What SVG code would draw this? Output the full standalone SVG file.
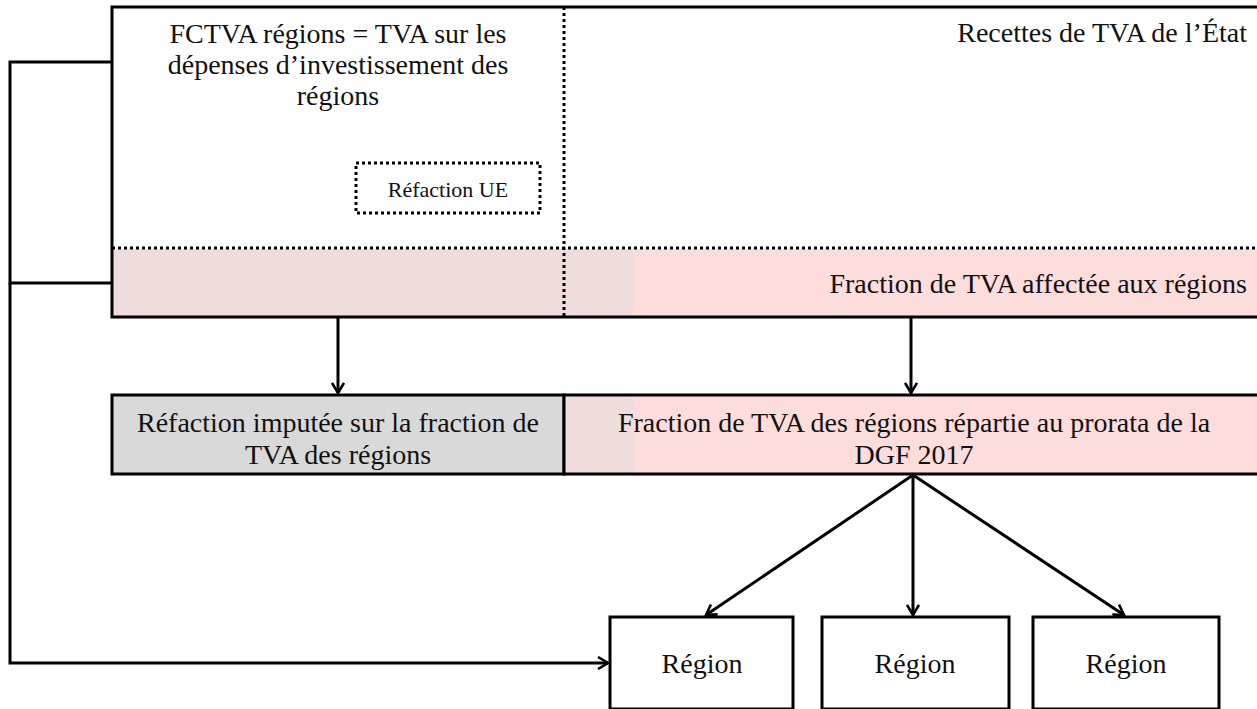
<svg xmlns="http://www.w3.org/2000/svg" width="1257" height="709" viewBox="0 0 1257 709">
  <style>
    .txt { font-family: "Liberation Serif", "Times New Roman", serif; fill: #111; }
    .big { font-size: 28px; }
    .small { font-size: 22px; }
    .solid { fill: none; stroke: #000; stroke-width: 3; }
    .dot { fill: none; stroke: #000; stroke-width: 3; stroke-dasharray: 3 3; }
    .conn { fill: none; stroke: #000; stroke-width: 3; }
  </style>
  <defs>
    <marker id="arrow" viewBox="0 0 14 14" refX="12" refY="7" markerWidth="14" markerHeight="14" markerUnits="userSpaceOnUse" orient="auto">
      <path d="M2,1 L12,7 L2,13" fill="none" stroke="#000" stroke-width="2.6"/>
    </marker>
  </defs>

  <rect width="1257" height="709" fill="#fff"/>

  <!-- Upper block: FCTVA and state VAT revenue -->
  <g id="recettes-tva">
    <rect x="112" y="249" width="521" height="68" fill="#efdcdd"/>
    <rect x="633" y="249" width="624" height="68" fill="#fddcdc"/>
    <path class="solid" d="M1257,7 H112 V317 H1257"/>
    <line class="dot" x1="112" y1="248" x2="1257" y2="248"/>
    <line class="dot" x1="564" y1="7" x2="564" y2="317"/>
    <text class="txt big" text-anchor="middle" x="338" y="43">FCTVA régions = TVA sur les</text>
    <text class="txt big" text-anchor="middle" x="338" y="74">dépenses d’investissement des</text>
    <text class="txt big" text-anchor="middle" x="338" y="105">régions</text>
    <text class="txt big" text-anchor="end" x="1247" y="42">Recettes de TVA de l’État</text>
    <text class="txt big" text-anchor="end" x="1247" y="293">Fraction de TVA affectée aux régions</text>
  </g>

  <g id="refaction-ue">
    <rect class="dot" x="356" y="163" width="184" height="50"/>
    <text class="txt small" text-anchor="middle" x="448" y="197">Réfaction UE</text>
  </g>

  <!-- Middle row -->
  <g id="refaction-imputee">
    <rect x="112" y="395" width="452" height="79" fill="#d9d9d9"/>
    <rect class="solid" x="112" y="395" width="452" height="79"/>
    <text class="txt big" text-anchor="middle" x="338" y="432">Réfaction imputée sur la fraction de</text>
    <text class="txt big" text-anchor="middle" x="338" y="464">TVA des régions</text>
  </g>

  <g id="fraction-repartie">
    <rect x="564" y="395" width="69" height="79" fill="#efdcdd"/>
    <rect x="633" y="395" width="624" height="79" fill="#fddcdc"/>
    <path class="solid" d="M1257,395 H564 V474 H1257"/>
    <text class="txt big" text-anchor="middle" x="914" y="432">Fraction de TVA des régions répartie au prorata de la</text>
    <text class="txt big" text-anchor="middle" x="914" y="464">DGF 2017</text>
  </g>

  <!-- Regions -->
  <g id="region-1">
    <rect class="solid" x="610" y="617" width="183" height="92"/>
    <text class="txt big" text-anchor="middle" x="702" y="673">Région</text>
  </g>
  <g id="region-2">
    <rect class="solid" x="822" y="617" width="187" height="92"/>
    <text class="txt big" text-anchor="middle" x="915" y="673">Région</text>
  </g>
  <g id="region-3">
    <rect class="solid" x="1033" y="617" width="186" height="92"/>
    <text class="txt big" text-anchor="middle" x="1126" y="673">Région</text>
  </g>

  <!-- Connectors -->
  <g id="connectors">
    <line class="conn" x1="338" y1="318" x2="338" y2="393" marker-end="url(#arrow)"/>
    <line class="conn" x1="911" y1="318" x2="911" y2="393" marker-end="url(#arrow)"/>
    <line class="conn" x1="913" y1="475" x2="706" y2="615" marker-end="url(#arrow)"/>
    <line class="conn" x1="913" y1="475" x2="913" y2="615" marker-end="url(#arrow)"/>
    <line class="conn" x1="913" y1="475" x2="1124" y2="615" marker-end="url(#arrow)"/>
    <path class="conn" d="M112,62 H10 V283 H112"/>
    <path class="conn" d="M10,283 V663 H608" marker-end="url(#arrow)"/>
  </g>
</svg>
